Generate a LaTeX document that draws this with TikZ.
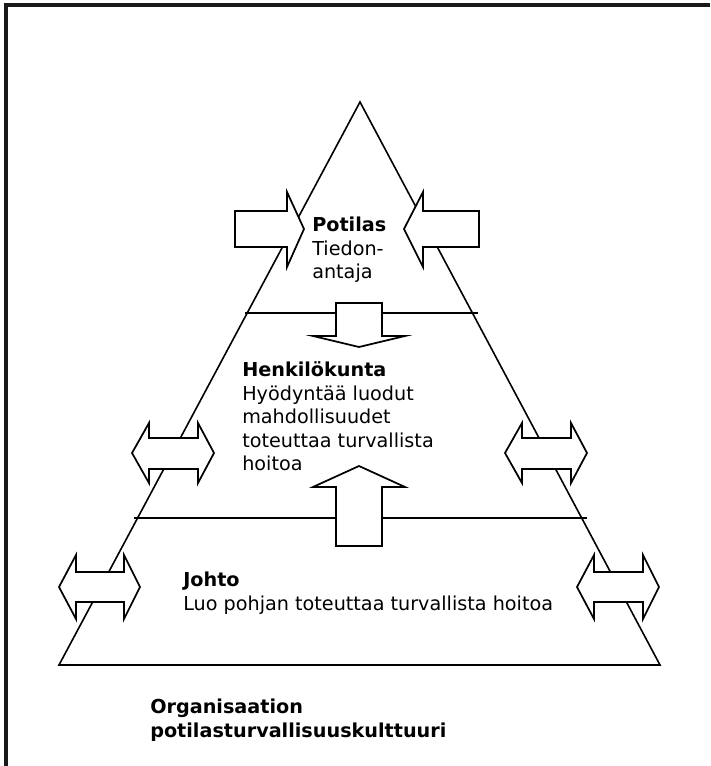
\documentclass[tikz,border=0pt]{standalone}
\usepackage{fontspec}
\setmainfont{DejaVu Sans}
\begin{document}
\begin{tikzpicture}[x=0.75pt,y=-0.75pt,
  frameline/.style={line width=2.6pt,draw=black!90},
  triline/.style={line width=1.2pt,draw=black},
  arrowbox/.style={line width=1.3pt,draw=black,fill=white,line join=miter},
  lbl/.style={anchor=north west,inner sep=0pt,align=left,font=\fontsize{14.4}{17.6}\selectfont}]
\useasboundingbox (0,0) rectangle (710,766);
% frame (right and bottom edges lie outside the picture)
\draw[frameline] (6,766) -- (6,5) -- (710,5);
% triangle and level lines
\coordinate (apex) at (360,102);
\coordinate (bl) at (59,665);
\coordinate (br) at (660,665);
\draw[triline] (bl) -- (apex) -- (br) -- cycle;
\coordinate (u1) at (245,313); \coordinate (u2) at (478,313);
\coordinate (l1) at (134,518); \coordinate (l2) at (587,518);
\draw[triline] (u1) -- (u2);
\draw[triline] (l1) -- (l2);
% upper single arrows
\draw[arrowbox] (235,211) -- (287,211) -- (287,192) -- (304,229) -- (287,267) -- (287,247) -- (235,247) -- cycle;
\draw[arrowbox] (479,211) -- (423,211) -- (423,192) -- (404,229) -- (423,267) -- (423,247) -- (479,247) -- cycle;
% central arrows
\draw[arrowbox] (336,303) -- (382,303) -- (382,336) -- (405,336) -- (359,347) -- (313,336) -- (336,336) -- cycle;
\draw[arrowbox] (336,546) -- (382,546) -- (382,487) -- (405,487) -- (359,466) -- (313,487) -- (336,487) -- cycle;
% middle double arrows
\draw[arrowbox] (132,453) -- (149,423) -- (149,438) -- (198,438) -- (198,423) -- (214,453) -- (198,483) -- (198,469) -- (149,469) -- (149,483) -- cycle;
\draw[arrowbox] (505,453) -- (522,423) -- (522,438) -- (571,438) -- (571,423) -- (587,453) -- (571,483) -- (571,469) -- (522,469) -- (522,483) -- cycle;
% lower double arrows
\draw[arrowbox] (59,587) -- (76,555) -- (76,572) -- (124,572) -- (124,555) -- (140,587) -- (124,619) -- (124,602) -- (76,602) -- (76,619) -- cycle;
\draw[arrowbox] (577,587) -- (594,555) -- (594,572) -- (643,572) -- (643,555) -- (659,587) -- (643,619) -- (643,602) -- (594,602) -- (594,619) -- cycle;
% texts (node top = first baseline - strut height, 16.4px)
\node[lbl] (potilas) at (312,215) {\strut\textbf{Potilas}\\Tiedon-\\antaja};
\node[lbl] (henk) at (242,360) {\strut\textbf{Henkilökunta}\\Hyödyntää luodut\\mahdollisuudet\\toteuttaa turvallista\\hoitoa};
\node[lbl] (johto) at (183,570) {\strut\textbf{Johto}\\Luo pohjan toteuttaa turvallista hoitoa};
\node[lbl] (org) at (150,697) {\strut\textbf{Organisaation}\\\textbf{potilasturvallisuuskulttuuri}};
\end{tikzpicture}
\end{document}
